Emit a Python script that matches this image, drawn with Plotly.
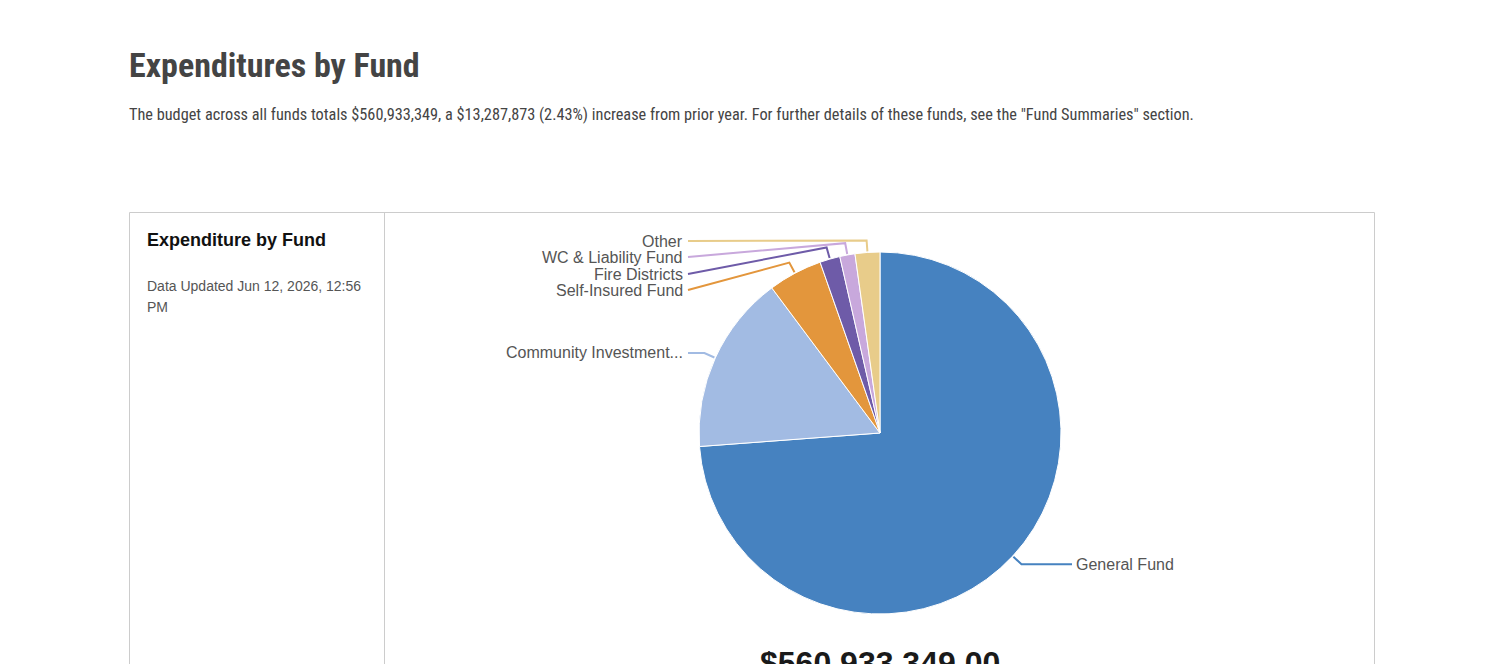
import math
import plotly.graph_objects as go

# ---- data ----
funds = ["General Fund", "Community Investment...", "Self-Insured Fund",
         "Fire Districts", "WC & Liability Fund", "Other"]
amounts = [414.0e6, 89.7e6, 27.1e6, 10.1e6, 7.6e6, 12.4e6]
colors = ["#4682c0", "#a2bbe3", "#e3963c", "#6e5ba8", "#c8a8dc", "#e8cc8a"]
total_label = "$560,933,349.00"
title_text = "Expenditures by Fund"
subtitle_text = ("The budget across all funds totals $560,933,349, a $13,287,873 (2.43%) increase "
                 "from prior year. For further details of these funds, see the \"Fund Summaries\" section.")

# ---- layout constants (pixels) ----
W, H = 1504, 664
CX, CY, R = 880, 433, 181
# label y position for stacked labels on the left (others: horizontal from elbow)
label_y = {"Self-Insured Fund": 290, "Fire Districts": 274,
           "WC & Liability Fund": 257, "Other": 241}
LEFT_END = 688
RIGHT_END = 1072
COND = "Roboto Condensed, Liberation Sans Narrow, DejaVu Sans Condensed, Arial Narrow, sans-serif"

fig = go.Figure()
fig.add_trace(go.Pie(
    labels=funds, values=amounts, sort=False, direction="clockwise", rotation=0,
    marker=dict(colors=colors, line=dict(color="white", width=1)),
    textinfo="none", showlegend=False,
    domain=dict(x=[(CX - R) / W, (CX + R) / W], y=[1 - (CY + R) / H, 1 - (CY - R) / H]),
))

shapes = []
annotations = []
tot = sum(amounts)
cum = 0.0
for name, v, c in zip(funds, amounts, colors):
    mid = (cum + v / 2) / tot * 2 * math.pi
    cum += v
    sx, sy = math.sin(mid), -math.cos(mid)
    p1 = (CX + (R + 1) * sx, CY + (R + 1) * sy)
    p2 = (CX + (R + 12) * sx, CY + (R + 12) * sy)
    right = sx > 0
    ly = label_y.get(name, p2[1])
    end_x = RIGHT_END if right else LEFT_END
    path = f"M {p1[0]:.1f},{p1[1]:.1f} L {p2[0]:.1f},{p2[1]:.1f} L {end_x},{ly:.1f}"
    shapes.append(dict(type="path", path=path, xref="x", yref="y",
                       line=dict(color=c, width=2)))
    annotations.append(dict(
        x=end_x + (2 if right else -3), y=ly, xref="x", yref="y", text=name,
        showarrow=False, xanchor="left" if right else "right", yanchor="middle",
        font=dict(family="Liberation Sans, Arial, sans-serif", size=16, color="#555555")))

# box and divider
shapes.append(dict(type="rect", xref="x", yref="y", x0=129.5, y0=212.5, x1=1374.5, y1=700,
                   line=dict(color="#cccccc", width=1), layer="below"))
shapes.append(dict(type="line", xref="x", yref="y", x0=384.5, y0=212.5, x1=384.5, y1=700,
                   line=dict(color="#cccccc", width=1), layer="below"))

annotations += [
    dict(x=127, y=65, xref="x", yref="y", text=f"<b>{title_text}</b>", showarrow=False,
         xanchor="left", yanchor="middle",
         font=dict(family=COND, size=34, color="#444444")),
    dict(x=127, y=114, xref="x", yref="y", text=subtitle_text, showarrow=False,
         xanchor="left", yanchor="middle",
         font=dict(family=COND, size=16.3, color="#444444")),
    dict(x=145, y=240, xref="x", yref="y", text="<b>Expenditure by Fund</b>", showarrow=False,
         xanchor="left", yanchor="middle",
         font=dict(family="Liberation Sans, Arial, sans-serif", size=18, color="#111111")),
    dict(x=145, y=286, xref="x", yref="y", text="Data Updated Jun 12, 2026, 12:56", showarrow=False,
         xanchor="left", yanchor="middle",
         font=dict(family="Liberation Sans, Arial, sans-serif", size=14, color="#555555")),
    dict(x=145, y=307, xref="x", yref="y", text="PM", showarrow=False,
         xanchor="left", yanchor="middle",
         font=dict(family="Liberation Sans, Arial, sans-serif", size=14, color="#555555")),
    dict(x=880, y=663, xref="x", yref="y", text=f"<b>{total_label}</b>", showarrow=False,
         xanchor="center", yanchor="middle",
         font=dict(family="Liberation Sans, Arial, sans-serif", size=32, color="#1a1a1a")),
]

fig.update_layout(
    width=W, height=H, margin=dict(l=0, r=0, t=0, b=0),
    paper_bgcolor="white", plot_bgcolor="rgba(0,0,0,0)",
    xaxis=dict(range=[0, W], visible=False, fixedrange=True),
    yaxis=dict(range=[H, 0], visible=False, fixedrange=True),
    shapes=shapes, annotations=annotations,
)
fig.write_html("out.html")
